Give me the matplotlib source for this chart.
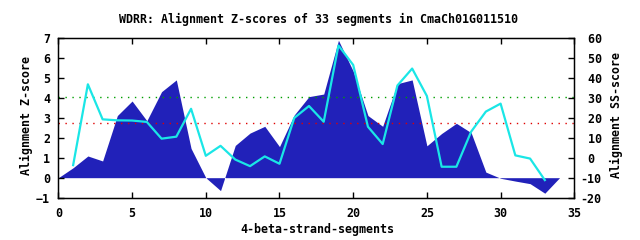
import matplotlib
matplotlib.use("Agg")
import matplotlib.pyplot as plt

# Data
seg_x = list(range(0, 35))
zscore = [0.0, 0.5, 1.09, 0.84, 3.12, 3.85, 2.86, 4.32, 4.91, 1.47, 0.0,
          -0.65, 1.62, 2.24, 2.58, 1.56, 3.15, 4.07, 4.2, 6.9, 5.35,
          3.12, 2.58, 4.72, 4.91, 1.6, 2.22, 2.73, 2.26, 0.28, -0.03,
          -0.17, -0.3, -0.78, 0.0]
ss_x = list(range(1, 34))
ss_score = [-3.7, 36.9, 19.3, 18.8, 18.7, 18.0, 9.6, 10.6, 24.6, 1.0, 6.0,
            -0.9, -4.2, 0.7, -3.0, 20.0, 26.0, 18.1, 56.4, 46.6, 15.6,
            6.9, 36.3, 44.8, 31.0, -4.5, -4.5, 13.1, 23.2, 27.2, 1.2,
            -0.4, -11.2]
green_level = 4.04
red_level = 2.73

title = "WDRR: Alignment Z-scores of 33 segments in CmaCh01G011510"
xlabel = "4-beta-strand-segments"
ylabel = "Alignment Z-score"
y2label = "Alignment SS-score"
xticks = [0, 5, 10, 15, 20, 25, 30, 35]
yticks = [-1, 0, 1, 2, 3, 4, 5, 6, 7]
y2ticks = [-20, -10, 0, 10, 20, 30, 40, 50, 60]

FS = 8.4
plt.rcParams["font.family"] = "DejaVu Sans Mono"
plt.rcParams["font.weight"] = "bold"
plt.rcParams["font.size"] = FS

W, H = 640, 240
L, R, T, B = 58.4, 574.3, 38.3, 197.6

fig = plt.figure(figsize=(6.4, 2.4), dpi=100)
ax = fig.add_axes([L / W, 1 - B / H, (R - L) / W, (B - T) / H])
ax.fill_between(seg_x, zscore, 0, color="#2121b9", linewidth=0, zorder=1)
ax.axhline(green_level, color="#00a000", linestyle=(0, (1, 4)), linewidth=1.0, zorder=2)
ax.axhline(red_level, color="#e00000", linestyle=(0, (1, 4)), linewidth=1.0, zorder=2)
ax.set_xlim(0, 35)
ax.set_ylim(-1, 7)
ax.set_xticks(xticks)
ax.set_yticks(yticks)
ax.tick_params(axis="x", direction="in", top=True, bottom=True, length=4, width=1, pad=6.5, labelsize=FS)
ax.tick_params(axis="y", direction="in", left=True, right=False, length=4, width=1, pad=6, labelsize=FS)
for s in ax.spines.values():
    s.set_linewidth(1.0)

ax2 = ax.twinx()
ax2.plot(ss_x, ss_score, color="#1ae6e6", linewidth=1.6, zorder=3)
ax2.set_ylim(-20, 60)
ax2.set_yticks(y2ticks)
ax2.set_yticklabels([("%d" % v) if v < 0 else (" %d" % v) for v in y2ticks])
ax2.tick_params(axis="y", direction="in", right=True, length=4, width=1, pad=4.6, labelsize=FS)

fig.text(0.5 * (L + R) / W + 0.004, 1 - 23.3 / H, title, ha="center", va="baseline", fontsize=FS, fontweight="bold")
fig.text(317 / W, 1 - 232.5 / H, xlabel, ha="center", va="baseline", fontsize=FS, fontweight="bold")
fig.text(26.7 / W, 1 - 115.5 / H, ylabel, ha="center", va="center", rotation=90, fontsize=FS, fontweight="bold")
fig.text(616 / W, 1 - 114.5 / H, y2label, ha="center", va="center", rotation=90, fontsize=FS, fontweight="bold")

fig.savefig("out.png", dpi=100)
